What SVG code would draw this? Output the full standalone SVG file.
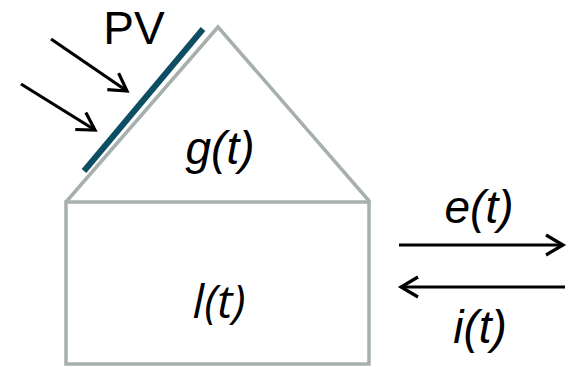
<svg xmlns="http://www.w3.org/2000/svg" width="571" height="367" viewBox="0 0 571 367">
<style>
.wall{fill:none;stroke:#a7b0ad;stroke-width:3.5;stroke-linejoin:miter}
.arr{fill:none;stroke:#000;stroke-width:3.2}
.lbl{font-family:"Liberation Sans",Arial,sans-serif;font-size:46px;fill:#000}
.it{font-style:italic}
</style>
<defs>
<marker id="ah" markerUnits="userSpaceOnUse" markerWidth="24" markerHeight="24" viewBox="-20 -12 24 24" refX="0" refY="0" orient="auto">
<path d="M-17,-10 L0,0 L-17,10" fill="none" stroke="#000" stroke-width="3.2"/>
</marker>
</defs>
<rect width="571" height="367" fill="#fff"/>
<g id="roof">
<path class="wall" d="M66,202 L218,27 L370,202"/>
<text class="lbl it" x="220" y="164" text-anchor="middle">g(t)</text>
</g>
<g id="house">
<rect class="wall" x="66" y="202" width="303" height="162"/>
<text x="219" y="318" text-anchor="middle" style="font-family:'Open Sans','Noto Sans',sans-serif;font-style:italic;font-size:46px;fill:#000">l(t)</text>
</g>
<g id="pv">
<line x1="84" y1="171" x2="203" y2="29" stroke="#0e4e64" stroke-width="6"/>
<text class="lbl" x="134" y="44" text-anchor="middle">PV</text>
</g>
<g id="connectors">
<line class="arr" x1="51" y1="39" x2="127" y2="91" marker-end="url(#ah)"/>
<line class="arr" x1="21" y1="84" x2="95" y2="130" marker-end="url(#ah)"/>
<line class="arr" x1="399" y1="245" x2="563" y2="245" marker-end="url(#ah)"/>
<line class="arr" x1="565" y1="287" x2="401" y2="287" marker-end="url(#ah)"/>
</g>
<g id="labels">
<text class="lbl it" x="479" y="223" text-anchor="middle">e(t)</text>
<text class="lbl it" x="480" y="343" text-anchor="middle">i(t)</text>
</g>
</svg>
